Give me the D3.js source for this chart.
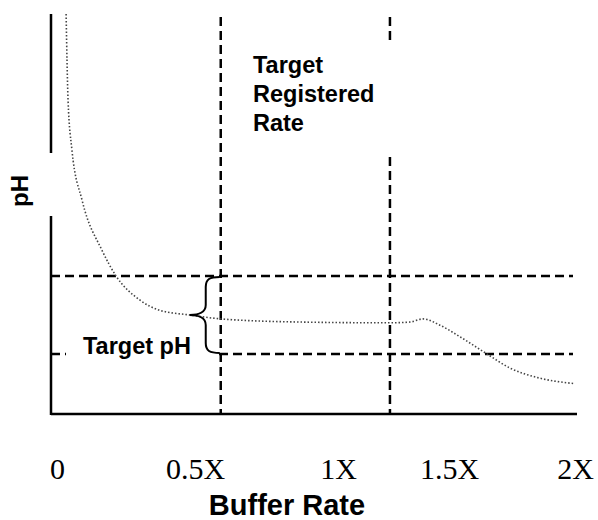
<!DOCTYPE html>
<html lang="en">
<head>
  <meta charset="UTF-8">
  <title>pH vs Buffer Rate</title>
  <style>
    body { margin: 0; background: #fff; }
  </style>
</head>
<body>
  <script src="https://d3js.org/d3.v7.min.js"></script>
  <script>
    // buffer rate (multiples of X) and pH along the titration curve
    const rate = [0.033, 0.040, 0.054, 0.091, 0.163, 0.214, 0.301, 0.373, 0.482, 0.591,
                  0.867, 1.234, 1.324, 1.383, 1.459, 1.544, 1.651, 1.742, 1.861, 2.0];
    const pH   = [9.86, 8.76, 8.12, 7.47, 6.83, 6.50, 6.19, 6.06, 6.00, 5.95,
                  5.91, 5.90, 5.91, 5.95, 5.87, 5.72, 5.50, 5.32, 5.19, 5.12];

    const tickValues = [0, 0.5, 1, 1.5, 2];
    const tickLabels = ['0', '0.5X', '1X', '1.5X', '2X'];

    const targetRate = [0.59, 1.234];   // registered rate window
    const targetPH = [5.5, 6.5];        // target pH band

    const [width, height] = [598, 520];
    const margin = { top: 14, left: 51, right: 21, bottom: 106 };

    const svg = d3.select('body').append('svg')
      .attr('width', width).attr('height', height);

    // x ticks in the picture are not evenly spaced, so use a piecewise scale
    const xScale = d3.scaleLinear()
      .domain(tickValues)
      .range([57, 195, 338, 449, 575]);
    const yScale = d3.scaleLinear()
      .domain([4.731, 9.859])
      .range([height - margin.bottom, margin.top]);

    const x0 = margin.left, x1 = width - margin.right;
    const y0 = margin.top, y1 = height - margin.bottom;

    // target lines
    const dash = svg.append('g').attr('class', 'targets')
      .attr('stroke', '#000').attr('stroke-width', 2.5)
      .attr('stroke-dasharray', '9,5').attr('fill', 'none');

    dash.selectAll('line.h').data(targetPH).enter().append('line')
      .attr('class', 'h')
      .attr('x1', x0).attr('x2', x1 - 4)
      .attr('y1', d => yScale(d)).attr('y2', d => yScale(d));

    dash.selectAll('line.v').data(targetRate).enter().append('line')
      .attr('class', 'v')
      .attr('x1', d => xScale(d)).attr('x2', d => xScale(d))
      .attr('y1', y0 + 3).attr('y2', y1);

    // curve
    const line = d3.line()
      .x(d => xScale(d[0]))
      .y(d => yScale(d[1]))
      .curve(d3.curveMonotoneX);

    svg.append('path')
      .datum(d3.zip(rate, pH))
      .attr('d', line)
      .attr('fill', 'none')
      .attr('stroke', '#444')
      .attr('stroke-width', 1.6)
      .attr('stroke-dasharray', '1.5,2');

    // axes frame
    svg.append('line')
      .attr('x1', x0).attr('x2', x0).attr('y1', y0).attr('y2', y1 + 1)
      .attr('stroke', '#000').attr('stroke-width', 2.5);
    svg.append('line')
      .attr('x1', x0).attr('x2', x1).attr('y1', y1).attr('y2', y1)
      .attr('stroke', '#000').attr('stroke-width', 2.5);

    const xAxis = d3.axisBottom(xScale)
      .tickValues(tickValues)
      .tickFormat((d, i) => tickLabels[i])
      .tickSize(0)
      .tickPadding(44);

    const gx = svg.append('g')
      .attr('transform', `translate(0, ${y1})`)
      .call(xAxis);
    gx.select('.domain').remove();
    gx.selectAll('text')
      .attr('font-family', '"Liberation Serif", "Times New Roman", serif')
      .attr('font-size', 30)
      .attr('fill', '#000');

    const sans = '"Liberation Sans", Arial, Helvetica, sans-serif';

    // labels with white backing
    svg.append('rect').attr('x', 245).attr('y', 45).attr('width', 150).attr('height', 108).attr('fill', '#fff');
    svg.append('text')
      .attr('x', 253).attr('y', 73)
      .attr('font-family', sans).attr('font-weight', 'bold').attr('font-size', 23.5)
      .selectAll('tspan').data(['Target', 'Registered', 'Rate']).enter().append('tspan')
      .attr('x', 253).attr('dy', (d, i) => i ? 29 : 0)
      .text(d => d);

    svg.append('rect').attr('x', 66).attr('y', 330).attr('width', 151).attr('height', 36).attr('fill', '#fff');
    svg.append('text')
      .attr('x', 83).attr('y', 354)
      .attr('font-family', sans).attr('font-weight', 'bold').attr('font-size', 23.5)
      .text('Target pH');

    svg.append('rect').attr('x', 8).attr('y', 153).attr('width', 46).attr('height', 63).attr('fill', '#fff');
    svg.append('text')
      .attr('transform', 'translate(28, 191) rotate(-90)')
      .attr('text-anchor', 'middle')
      .attr('font-family', sans).attr('font-weight', 'bold').attr('font-size', 24)
      .text('pH');

    svg.append('text')
      .attr('x', 287).attr('y', 515)
      .attr('text-anchor', 'middle')
      .attr('font-family', sans).attr('font-weight', 'bold').attr('font-size', 29)
      .text('Buffer Rate');

    // brace for the target pH band
    const bx = xScale(targetRate[0]) - 1;
    const yt = yScale(targetPH[1]) + 1, yb = yScale(targetPH[0]) - 1;
    const ym = (yt + yb) / 2;
    svg.append('path')
      .attr('d', `M${bx},${yt} C${bx - 10},${yt} ${bx - 14},${yt + 2} ${bx - 14},${yt + 10}
                  L${bx - 14},${ym - 10} C${bx - 14},${ym - 3} ${bx - 21},${ym} ${bx - 30},${ym}
                  C${bx - 21},${ym} ${bx - 14},${ym + 3} ${bx - 14},${ym + 10}
                  L${bx - 14},${yb - 10} C${bx - 14},${yb - 2} ${bx - 10},${yb} ${bx},${yb}`)
      .attr('fill', 'none').attr('stroke', '#000').attr('stroke-width', 2);
  </script>
</body>
</html>
